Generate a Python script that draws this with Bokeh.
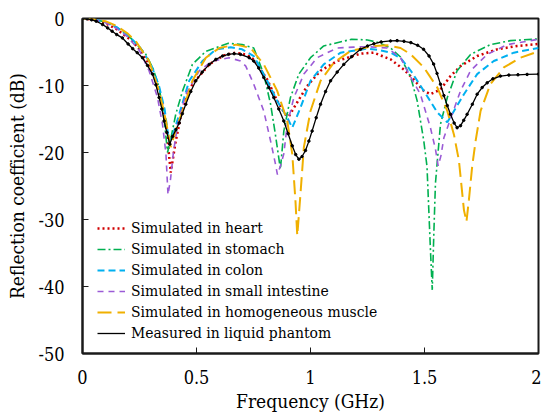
from bokeh.plotting import figure
from bokeh.models import FixedTicker, CustomJSTickFormatter, Legend, LegendItem, Range1d
from bokeh.embed import file_html
from bokeh.resources import INLINE

# ---- data (frequency in GHz, reflection coefficient in dB) ----
heart_f = [0, 0.05, 0.1, 0.15, 0.219, 0.26, 0.292, 0.32, 0.351, 0.37, 0.387, 0.409, 0.439, 0.482,
           0.556, 0.62, 0.67, 0.72, 0.751, 0.81, 0.854, 0.89, 0.905, 0.942, 0.985, 1.044, 1.117,
           1.219, 1.278, 1.351, 1.409, 1.453, 1.497, 1.526, 1.57, 1.614, 1.658, 1.731, 1.819, 1.906, 2.0]
heart_db = [0, -0.2, -0.7, -1.6, -3.4, -5.0, -6.85, -9.2, -12.8, -17.0, -23.0, -18.3, -13.3, -9.8,
            -6.85, -5.5, -5.1, -5.4, -6.1, -9.1, -12.3, -14.3, -14.6, -12.5, -10.1, -7.8, -6.35,
            -5.25, -5.1, -6.1, -7.6, -9.1, -10.8, -11.3, -10.6, -8.6, -7.1, -5.6, -4.6, -4.1, -3.8]

stomach_f = [0, 0.05, 0.1, 0.15, 0.2, 0.278, 0.31, 0.336, 0.355, 0.373, 0.39, 0.409, 0.439, 0.482,
             0.541, 0.64, 0.7, 0.751, 0.795, 0.825, 0.846, 0.868, 0.883, 0.912, 0.949, 1.0, 1.058,
             1.18, 1.25, 1.3, 1.351, 1.395, 1.44, 1.468, 1.497, 1.511, 1.526, 1.534, 1.541, 1.548,
             1.57, 1.6, 1.643, 1.702, 1.789, 1.877, 2.0]
stomach_db = [0, -0.15, -0.5, -1.3, -2.5, -5.36, -7.5, -10.3, -14.0, -20.0, -17.5, -14.3, -10.8, -6.85,
              -4.9, -3.7, -3.9, -4.4, -8.3, -12.8, -17.3, -22.5, -16.8, -11.8, -8.3, -5.85, -4.1,
              -3.1, -3.2, -3.6, -4.4, -5.75, -8.8, -12.3, -18.3, -22.1, -34.5, -40.5, -32.0, -24.6,
              -15.8, -11.8, -7.8, -5.36, -3.9, -3.3, -3.05]

colon_f = [0, 0.05, 0.1, 0.15, 0.2, 0.25, 0.3, 0.335, 0.36, 0.38, 0.4, 0.424, 0.468, 0.526, 0.585,
           0.65, 0.7, 0.751, 0.81, 0.854, 0.898, 0.92, 0.956, 1.0, 1.058, 1.132, 1.25, 1.3, 1.351,
           1.395, 1.44, 1.497, 1.556, 1.6, 1.673, 1.731, 1.804, 1.892, 2.0]
colon_db = [0, -0.15, -0.55, -1.3, -2.5, -4.2, -6.8, -10.0, -13.5, -18.5, -17.0, -14.3, -9.3, -6.35,
            -4.6, -4.3, -4.6, -5.6, -9.3, -12.3, -14.8, -16.3, -13.3, -9.3, -6.85, -5.1, -4.5, -4.7,
            -5.1, -5.9, -7.8, -10.8, -14.0, -15.5, -11.3, -8.3, -6.35, -5.1, -4.4]

intestine_f = [0, 0.05, 0.1, 0.15, 0.2, 0.25, 0.292, 0.329, 0.351, 0.366, 0.375, 0.386, 0.398, 0.417,
               0.453, 0.512, 0.57, 0.643, 0.693, 0.716, 0.751, 0.795, 0.825, 0.845, 0.855, 0.868,
               0.883, 0.898, 0.927, 0.971, 1.029, 1.117, 1.19, 1.25, 1.336, 1.395, 1.424, 1.482,
               1.526, 1.548, 1.56, 1.572, 1.585, 1.621, 1.658, 1.702, 1.775, 1.863, 2.0]
intestine_db = [0, -0.15, -0.6, -1.5, -2.8, -4.8, -7.8, -11.8, -15.8, -20.2, -26.3, -24.0, -20.2, -15.8,
                -11.3, -7.8, -6.35, -5.85, -6.35, -7.1, -9.8, -13.8, -18.3, -21.5, -23.3, -22.0,
                -20.2, -15.8, -11.8, -8.3, -5.85, -4.4, -4.27, -4.2, -4.4, -5.85, -7.8, -11.3,
                -16.3, -19.5, -22.0, -20.5, -17.8, -14.3, -10.8, -7.8, -5.36, -3.9, -3.1]

muscle_f = [0, 0.05, 0.1, 0.15, 0.2, 0.234, 0.292, 0.336, 0.366, 0.387, 0.41, 0.439, 0.482, 0.541,
            0.6, 0.673, 0.737, 0.795, 0.854, 0.898, 0.92, 0.934, 0.942, 0.956, 0.971, 1.0, 1.044,
            1.102, 1.175, 1.278, 1.336, 1.395, 1.44, 1.497, 1.556, 1.6, 1.629, 1.651, 1.673, 1.684,
            1.695, 1.709, 1.724, 1.746, 1.789, 1.848, 1.921, 2.0]
muscle_db = [0, -0.1, -0.4, -1.1, -2.3, -3.4, -6.35, -10.8, -15.3, -19.2, -16.5, -13.8, -9.3, -5.85,
             -4.4, -3.9, -4.4, -6.85, -10.8, -15.3, -20.2, -27.2, -32.4, -26.2, -19.2, -13.8, -9.3,
             -6.6, -4.86, -4.1, -4.0, -4.4, -5.36, -7.3, -10.3, -13.8, -17.3, -21.2, -28.6, -30.3,
             -27.0, -22.1, -18.3, -13.8, -9.8, -7.3, -5.85, -4.9]

measured_f = [0, 0.02, 0.04, 0.06, 0.088, 0.11, 0.13, 0.15, 0.175, 0.2, 0.22, 0.24, 0.263, 0.285,
              0.307, 0.322, 0.336, 0.348, 0.358, 0.37, 0.383, 0.395, 0.41, 0.424, 0.438, 0.453,
              0.475, 0.497, 0.525, 0.556, 0.585, 0.614, 0.64, 0.665, 0.693, 0.731, 0.751, 0.773,
              0.795, 0.817, 0.839, 0.861, 0.883, 0.902, 0.92, 0.935, 0.949, 0.963, 0.978, 0.993,
              1.007, 1.025, 1.044, 1.066, 1.088, 1.117, 1.146, 1.18, 1.219, 1.25, 1.278, 1.31,
              1.351, 1.38, 1.41, 1.44, 1.47, 1.496, 1.52, 1.54, 1.555, 1.57, 1.585, 1.6, 1.614,
              1.63, 1.643, 1.658, 1.672, 1.687, 1.71, 1.731, 1.753, 1.775, 1.8, 1.833, 1.87, 1.91,
              1.95, 2.0]
measured_db = [0, -0.05, -0.2, -0.4, -0.9, -1.4, -1.9, -2.4, -2.9, -3.8, -4.5, -5.1, -5.85, -7.0,
               -8.3, -9.9, -11.8, -13.5, -15.3, -17.0, -18.75, -17.6, -16.6, -15.6, -14.2, -12.8,
               -10.9, -9.3, -8.0, -6.85, -6.1, -5.6, -5.35, -5.25, -5.36, -5.85, -6.35, -7.4,
               -8.8, -10.3, -11.8, -13.5, -15.3, -17.2, -19.0, -20.3, -21.0, -20.6, -19.7, -18.3,
               -16.8, -14.8, -12.8, -10.9, -9.3, -8.0, -6.85, -5.7, -4.6, -4.1, -3.77, -3.5,
               -3.35, -3.3, -3.4, -3.6, -4.0, -4.6, -5.6, -6.8, -8.2, -9.8, -11.5, -13.0, -14.3,
               -15.6, -16.3, -16.0, -15.2, -14.3, -12.8, -11.3, -10.3, -9.6, -9.0, -8.6, -8.45,
               -8.4, -8.35, -8.3]

labels = ["Simulated in heart", "Simulated in stomach", "Simulated in colon",
          "Simulated in small intestine", "Simulated in homogeneous muscle",
          "Measured in liquid phantom"]
x_ticks = [0, 0.5, 1, 1.5, 2]
y_ticks = [0, -10, -20, -30, -40, -50]

FONT = "DejaVu Serif Condensed"

p = figure(width=541, height=414, output_backend="svg", toolbar_location=None,
           x_range=Range1d(0, 2), y_range=Range1d(-50, 0),
           min_border_left=82, min_border_right=3, min_border_top=18, min_border_bottom=60)
p.background_fill_color = "white"
p.border_fill_color = "white"
p.outline_line_color = "#1a1a1a"
p.outline_line_width = 2
p.xgrid.visible = False
p.ygrid.visible = False

fmt = CustomJSTickFormatter(code="return String(tick);")
for ax, ticks in ((p.xaxis[0], x_ticks), (p.yaxis[0], y_ticks)):
    ax.ticker = FixedTicker(ticks=ticks)
    ax.formatter = fmt
    ax.major_tick_in = 6
    ax.major_tick_out = 0
    ax.minor_tick_line_color = None
    ax.axis_line_width = 2
    ax.axis_line_color = "#1a1a1a"
    ax.major_tick_line_color = "#1a1a1a"
    ax.major_label_text_font = FONT
    ax.major_label_text_font_size = "18px"
    ax.major_label_text_color = "black"
    ax.axis_label_text_font = FONT
    ax.axis_label_text_font_size = "19px"
    ax.axis_label_text_font_style = "normal"
    ax.axis_label_text_color = "black"

p.xaxis.axis_label = "Frequency (GHz)"
p.yaxis.axis_label = "Reflection coefficient (dB)"
p.xaxis.major_label_standoff = 16
p.xaxis.axis_label_standoff = 3
p.yaxis.major_label_standoff = 18
p.yaxis.axis_label_standoff = 7

r_heart = p.line(heart_f, heart_db, line_color="#D00000", line_width=2.5, line_dash="2 3")
r_stom = p.line(stomach_f, stomach_db, line_color="#00B050", line_width=1.6, line_dash="8 3 2 3")
r_colon = p.line(colon_f, colon_db, line_color="#00B0F0", line_width=2, line_dash="7 4")
r_int = p.line(intestine_f, intestine_db, line_color="#9B5BD6", line_width=1.6, line_dash="6 5")
r_mus = p.line(muscle_f, muscle_db, line_color="#F0B000", line_width=2, line_dash="14 6")
r_meas = p.line(measured_f, measured_db, line_color="black", line_width=1.3)
r_meas_pts = p.scatter(measured_f, measured_db, size=2.5, color="black")

legend = Legend(items=[
    LegendItem(label=labels[0], renderers=[r_heart]),
    LegendItem(label=labels[1], renderers=[r_stom]),
    LegendItem(label=labels[2], renderers=[r_colon]),
    LegendItem(label=labels[3], renderers=[r_int]),
    LegendItem(label=labels[4], renderers=[r_mus]),
    LegendItem(label=labels[5], renderers=[r_meas]),
], location=(15, 10))
legend.background_fill_alpha = 0
legend.border_line_color = None
legend.padding = 0
legend.margin = 0
legend.spacing = 1
legend.glyph_width = 28
legend.glyph_height = 20
legend.label_height = 20
legend.label_standoff = 6
legend.label_text_font = FONT
legend.label_text_font_size = "15.5px"
legend.label_text_color = "black"
p.add_layout(legend, "center")

open("out.html", "w").write(file_html(p, INLINE))
